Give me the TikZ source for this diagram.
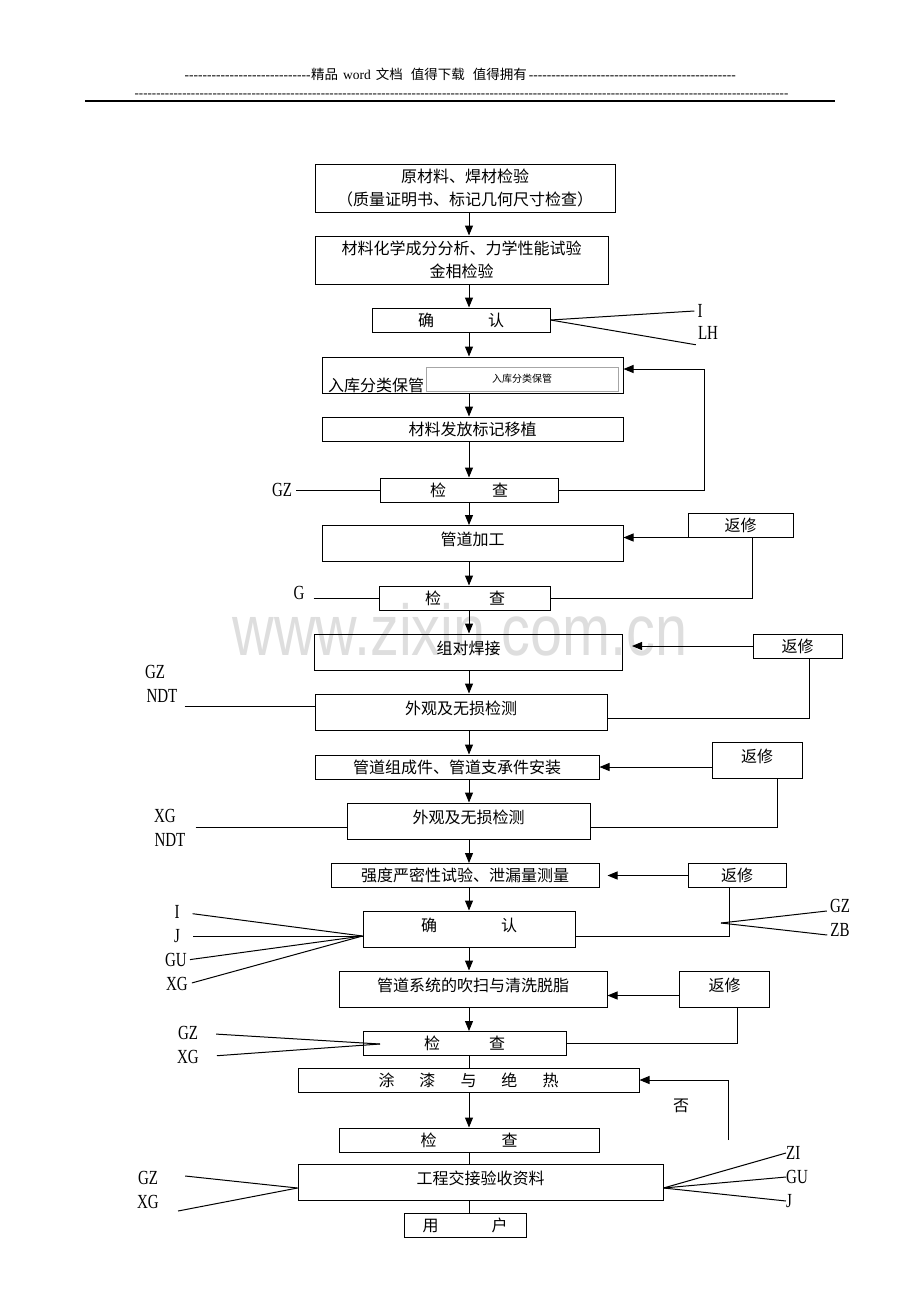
\documentclass[tikz,border=0pt]{standalone}
\usepackage{fontspec}
\setmainfont{Liberation Serif}
\newfontfamily\cjk{Noto Sans CJK SC}
\newfontfamily\labfont{Liberation Serif}[FakeStretch=0.75]
\newfontfamily\markfont{Liberation Sans}[FakeStretch=0.8]
\usetikzlibrary{arrows.meta}

\newcommand\dashfill[1]{\hbox to #1{\cleaders\hbox{-}\hfill}}

\begin{document}
\begin{tikzpicture}[x=1pt, y=-1pt,
    box/.style={draw, line width=1pt, inner sep=0pt, align=center,
        font=\cjk\fontsize{16pt}{19pt}\selectfont},
    tall/.style={box, text height=13pt, text depth=9pt},
    twoline/.style={box, font=\cjk\fontsize{16pt}{23pt}\selectfont},
    lab/.style={inner sep=0pt, font=\labfont\fontsize{20pt}{20pt}\selectfont},
    wire/.style={line width=1pt},
    arr/.style={wire, -{Triangle[length=10pt,width=8pt]}}]

    \useasboundingbox (0,0) rectangle (920,1302);

    % Watermark
    \node[font=\markfont\fontsize{72pt}{72pt}\selectfont, text=black!13,
        anchor=base, inner sep=0pt] (mark) at (460,655) {www.zixin.com.cn};

    % Header
    \node[font=\fontsize{13.5pt}{13.5pt}\selectfont, anchor=base, inner sep=0pt] (hdr1) at (461,79)
        {\dashfill{127pt}{\cjk 精品}\hspace{5pt}word\hspace{5pt}{\cjk 文档}\hspace{8pt}{\cjk 值得下载}\hspace{8pt}{\cjk 值得拥有}\dashfill{211pt}};
    \node[font=\fontsize{13pt}{13pt}\selectfont, anchor=base, inner sep=0pt] (hdr2) at (461.5,97)
        {\dashfill{657pt}};
    \draw[line width=1.6pt] (85,101) -- (835,101);

    % Main chain
    \node[twoline, minimum width=300pt, minimum height=48pt] (raw) at (465,188)
        {原材料、焊材检验\\（质量证明书、标记几何尺寸检查）};
    \node[twoline, minimum width=293pt, minimum height=48pt] (chem) at (461.5,260)
        {材料化学成分分析、力学性能试验\\金相检验};
    \node[box, minimum width=178pt, minimum height=24pt] (conf1) at (461,320) {确\hspace{54pt}认};
    \node[box, minimum width=301pt, minimum height=36pt] (store) at (472.5,375) {};
    \node[anchor=base west, inner sep=0pt, font=\cjk\fontsize{16pt}{16pt}\selectfont] (storeT) at (328,391) {入库分类保管};
    \node[draw=gray!70, line width=0.8pt, minimum width=192pt, minimum height=24pt, inner sep=0pt,
        font=\cjk\fontsize{10pt}{10pt}\selectfont] (storeIn) at (522,379) {入库分类保管};
    \node[box, minimum width=301pt, minimum height=24pt] (issue) at (472.5,429) {材料发放标记移植};
    \node[box, minimum width=178pt, minimum height=24pt] (chk1) at (469,490) {检\hspace{46pt}查};
    \node[tall, minimum width=301pt, minimum height=36pt] (fab) at (472.5,543.5) {管道加工};
    \node[box, minimum width=171pt, minimum height=24pt] (chk2) at (465,598) {检\hspace{48pt}查};
    \node[tall, minimum width=308pt, minimum height=36pt] (weld) at (468.5,652) {组对焊接};
    \node[tall, minimum width=292pt, minimum height=36pt] (ndt1) at (461,712) {外观及无损检测};
    \node[box, minimum width=284pt, minimum height=24pt] (inst) at (457,767) {管道组成件、管道支承件安装};
    \node[tall, minimum width=243pt, minimum height=36pt] (ndt2) at (468.5,821) {外观及无损检测};
    \node[box, minimum width=268pt, minimum height=24pt] (test) at (465,875.5) {强度严密性试验、泄漏量测量};
    \node[tall, minimum width=212pt, minimum height=36pt] (conf2) at (469,929) {确\hspace{64pt}认};
    \node[tall, minimum width=268pt, minimum height=36pt] (purge) at (473,989) {管道系统的吹扫与清洗脱脂};
    \node[box, minimum width=203pt, minimum height=24pt] (chk3) at (464.5,1043.5) {检\hspace{49pt}查};
    \node[box, minimum width=341pt, minimum height=24pt] (paint) at (468.5,1080)
        {涂\hspace{25pt}漆\hspace{25pt}与\hspace{25pt}绝\hspace{25pt}热};
    \node[box, minimum width=260pt, minimum height=24pt] (chk4) at (469,1140) {检\hspace{65pt}查};
    \node[tall, minimum width=365pt, minimum height=36pt] (hand) at (480.5,1182.5) {工程交接验收资料};
    \node[box, minimum width=122pt, minimum height=24pt] (user) at (465,1225) {用\hspace{53pt}户};

    % Repair boxes
    \node[box, minimum width=105pt, minimum height=24pt] (rep1) at (740.5,525) {返修};
    \node[box, minimum width=89pt, minimum height=24pt] (rep2) at (797.5,646) {返修};
    \node[tall, minimum width=90pt, minimum height=36pt] (rep3) at (757,760.5) {返修};
    \node[box, minimum width=98pt, minimum height=24pt] (rep4) at (737,875.5) {返修};
    \node[tall, minimum width=90pt, minimum height=36pt] (rep5) at (724.5,989.5) {返修};

    % Flow arrows
    \coordinate (spine) at (469,0);
    \foreach \a/\b in {raw/chem, chem/conf1, conf1/store, store/issue, issue/chk1,
        chk1/fab, fab/chk2, chk2/weld, weld/ndt1, ndt1/inst, inst/ndt2, ndt2/test,
        test/conf2, conf2/purge, purge/chk3, paint/chk4}
        \draw[arr] (\a.south -| spine) -- (\b.north -| spine);
    \foreach \a/\b in {chk3/paint, chk4/hand, hand/user}
        \draw[wire] (\a.south -| spine) -- (\b.north -| spine);

    % Return loops
    \coordinate (backA) at (704,369);
    \draw[arr] (chk1.east) -| (backA) -- (backA -| store.east);
    \draw[arr] (rep1.south west) -- (rep1.south west -| fab.east);
    \draw[wire] ([xshift=12pt]rep1.south) |- (chk2.east);
    \draw[arr, shorten >=9pt] (rep2.west) -- (rep2.west -| weld.east);
    \draw[wire] ([xshift=11.5pt]rep2.south) |- ([yshift=-6pt]ndt1.east);
    \draw[arr] (rep3.west |- inst.east) -- (inst.east);
    \draw[wire] ([xshift=20pt]rep3.south) |- ([yshift=-6pt]ndt2.east);
    \draw[arr, shorten >=8pt] (rep4.west) -- (rep4.west -| test.east);
    \draw[wire] ([xshift=-8pt]rep4.south) |- ([yshift=-7pt]conf2.east);
    \draw[arr] ([yshift=-6pt]rep5.west) -- ([yshift=-6pt]rep5.west -| purge.east);
    \draw[wire] ([xshift=12.5pt]rep5.south) |- (chk3.east);
    \coordinate (noEnd) at (728,1140);
    \draw[arr] (noEnd) |- (paint.east);
    \node[font=\cjk\fontsize{16pt}{16pt}\selectfont, inner sep=0pt] (no) at (681,1106) {否};

    % Side labels
    \node[lab] (cfI) at (700,311) {I};
    \node[lab] (cfLH) at (708,333) {LH};
    \draw[wire] (conf1.east) -- ([xshift=-3pt]cfI.west);
    \draw[wire] (conf1.east) -- ([xshift=-2pt,yshift=-5pt]cfLH.south west);

    \node[lab] (ckGZ) at (282,490) {GZ};
    \draw[wire] ([xshift=4pt]ckGZ.east) -- (chk1.west);
    \node[lab] (ckG) at (299,593) {G};
    \draw[wire] ([xshift=9pt]ckG.east |- chk2.west) -- (chk2.west);

    \node[lab] (n1GZ) at (155,672) {GZ};
    \node[lab] (n1NDT) at (162,696) {NDT};
    \coordinate (ndt1in) at ([yshift=6pt]ndt1.west);
    \draw[wire] ([xshift=7pt]n1NDT.east |- ndt1in) -- (ndt1in);

    \node[lab] (n2XG) at (165,816) {XG};
    \node[lab] (n2NDT) at (170,840) {NDT};
    \coordinate (ndt2in) at ([yshift=-6pt]ndt2.west);
    \draw[wire] ([xshift=10pt]n2NDT.east |- ndt2in) -- (ndt2in);

    \coordinate (conf2in) at ([yshift=-7pt]conf2.west);
    \foreach \t/\x/\y/\g in {I/177/912/13, J/177/936/13, GU/176/960/3, XG/177/984/4} {
        \node[lab] (c2\t) at (\x,\y) {\t};
        \draw[wire, shorten <=\g pt] (c2\t.east) -- (conf2in);
    }

    \coordinate (zjoin) at (721,923);
    \node[lab] (rGZ) at (840,906) {GZ};
    \node[lab] (rZB) at (840,930) {ZB};
    \draw[wire] (zjoin) -- ([xshift=-3pt,yshift=-5pt]rGZ.west);
    \draw[wire] (zjoin) -- ([xshift=-3pt,yshift=-5pt]rZB.west);

    \coordinate (chk3in) at (380,1044);
    \node[lab] (k3GZ) at (188,1033) {GZ};
    \node[lab] (k3XG) at (188,1057) {XG};
    \draw[wire, shorten <=18pt] (k3GZ.east) -- (chk3in);
    \draw[wire, shorten <=18pt] (k3XG.east) -- (chk3in);

    \coordinate (handin) at ([yshift=-5.5pt]hand.west);
    \coordinate (handout) at ([yshift=-5.5pt]hand.east);
    \node[lab] (hoGZ) at (148,1178) {GZ};
    \node[lab] (hoXG) at (148,1202) {XG};
    \draw[wire] ([xshift=27pt,yshift=2pt]hoGZ.east) -- (handin);
    \draw[wire] ([xshift=19pt,yshift=-9pt]hoXG.east) -- (handin);
    \foreach \t/\y in {ZI/1153, GU/1177, J/1201} {
        \node[lab, anchor=west] (ho\t) at (786,\y) {\t};
        \draw[wire] (handout) -- (ho\t.west);
    }
\end{tikzpicture}
\end{document}
